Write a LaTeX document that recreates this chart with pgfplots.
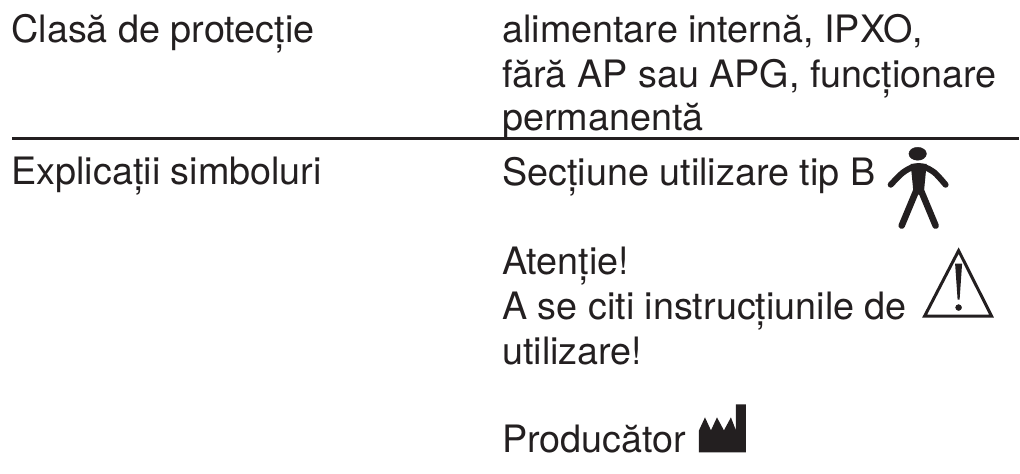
\documentclass[border=0pt]{standalone}
\usepackage{fontspec}
\setmainfont{TeX Gyre Heros}
\usepackage{pgfplots}
\pgfplotsset{compat=1.18}
\definecolor{ink}{HTML}{231F20}
\begin{document}
\begin{tikzpicture}
\begin{axis}[
  at={(0,0)}, anchor=south west,
  scale only axis, width=1020pt, height=474pt,
  xmin=0, xmax=1020, ymin=0, ymax=474, y dir=reverse,
  hide axis, clip=false,
  every axis plot/.append style={no markers},
  nodes={font=\fontsize{37.8}{42}\selectfont, text=ink, anchor=base west, inner sep=0pt, outer sep=0pt},
]
\path (axis cs:0,0) rectangle (axis cs:1020,474);
% rule
\addplot[ink, line width=3pt] coordinates {(12,139) (1020,139)};
% text
\node at (axis cs:11.5,43) {Clasă de protecție};
\node at (axis cs:503,43) {alimentare internă, IPXO,};
\node at (axis cs:503,88) {fără AP sau APG, funcționare};
\node at (axis cs:503,131) {permanentă};
\node at (axis cs:11.5,185) {Explicații simboluri};
\node at (axis cs:503,186) {Secțiune utilizare tip B};
\node at (axis cs:503,275) {Atenție!};
\node at (axis cs:503,320) {A se citi instrucțiunile de};
\node at (axis cs:503,365) {utilizare!};
\node at (axis cs:503,453) {Producător};
% person
\addplot[ink, only marks, mark=*, mark size=6.5pt, mark options={fill=ink, draw=ink, xscale=1.35}] coordinates {(919,154)};
\addplot[ink, line width=6pt, line cap=round, smooth] coordinates {(892,185) (904,173) (915,167) (925,167) (936,173) (947,185)};
\addplot[fill=ink, draw=none] coordinates {(912,164) (928,164) (925,195) (915,195)} --cycle;
\addplot[ink, line width=6.5pt, line cap=round] coordinates {(918,190) (903,226)};
\addplot[ink, line width=6.5pt, line cap=round] coordinates {(922,190) (937,226)};
% warning triangle
\addplot[ink, line width=3pt, line join=miter] coordinates {(960,251) (926,316.5) (993,316.5)} --cycle;
\addplot[fill=ink, draw=none] coordinates {(956.5,264) (963.5,264) (961,300) (959,300)} --cycle;
\addplot[ink, only marks, mark=*, mark size=3pt, mark options={fill=ink, draw=ink}] coordinates {(960,308)};
% factory
\addplot[fill=ink, draw=none] coordinates {(700,453) (700,431) (706,418) (712,431) (718,418) (725,431) (732,418) (737,431) (737,405) (747,405) (747,453)} --cycle;
\end{axis}
\end{tikzpicture}
\end{document}
